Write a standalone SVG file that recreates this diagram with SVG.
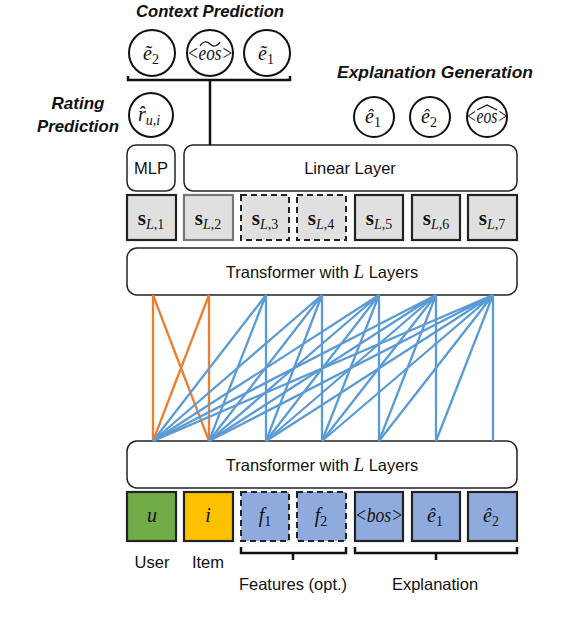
<svg xmlns="http://www.w3.org/2000/svg" width="562" height="630" viewBox="0 0 562 630">
<style>
.box{fill:#fff;stroke:#222;stroke-width:1.5}
.lbl{font-family:"Liberation Sans",Arial,sans-serif;font-size:16.5px;fill:#111;text-anchor:middle}
.ttl{font-family:"Liberation Sans",Arial,sans-serif;font-size:16.5px;font-weight:bold;font-style:italic;fill:#111;text-anchor:middle}
.m{font-family:"Liberation Serif","Times New Roman",serif;font-style:italic;font-size:20px;fill:#111;text-anchor:middle}
.circ{fill:#fff;stroke:#111;stroke-width:2}
.acc{fill:none;stroke:#111;stroke-width:1.2}
.sq{fill:#e0e0e0;stroke:#222;stroke-width:2.2}
.sqd{fill:#e0e0e0;stroke:#222;stroke-width:2;stroke-dasharray:6 4}
.o{stroke:#ed7d31;stroke-width:2.3;fill:none}
.b{stroke:#5b9bd5;stroke-width:2.3;fill:none}
.sub{font-size:14px}
</style>

<!-- Titles -->
<g id="titles">
<text class="ttl" x="210" y="17" textLength="148" lengthAdjust="spacingAndGlyphs">Context Prediction</text>
<text class="ttl" x="435" y="78" textLength="196" lengthAdjust="spacingAndGlyphs">Explanation Generation</text>
<text class="ttl" x="78" y="109" textLength="53" lengthAdjust="spacingAndGlyphs">Rating</text>
<text class="ttl" x="78" y="132" textLength="82" lengthAdjust="spacingAndGlyphs">Prediction</text>
</g>

<!-- Context prediction circles -->
<g id="ctx_e2">
<circle class="circ" cx="152" cy="53" r="23"/>
<text class="m" x="151" y="60">ẽ<tspan class="sub" font-style="normal" dy="4">2</tspan></text>
</g>
<g id="ctx_eos">
<circle class="circ" cx="210" cy="53" r="23"/>
<text class="m" x="210" y="60" font-size="17" textLength="46" lengthAdjust="spacingAndGlyphs">&lt;eos&gt;</text>
<path class="acc" d="M200,46 C203,41 207,41 210,44 C213,47 217,47 220,42"/>
</g>
<g id="ctx_e1">
<circle class="circ" cx="267" cy="53" r="23"/>
<text class="m" x="266" y="60">ẽ<tspan class="sub" font-style="normal" dy="4">1</tspan></text>
</g>

<!-- Rating circle -->
<g id="rating">
<circle class="circ" cx="151" cy="115" r="22"/>
<text class="m" x="149" y="121">r̂<tspan class="sub" dy="4">u,i</tspan></text>
</g>

<!-- Explanation circles -->
<g id="exp_e1">
<circle class="circ" cx="374" cy="117" r="20"/>
<text class="m" x="373" y="123">ê<tspan class="sub" font-style="normal" dy="4">1</tspan></text>
</g>
<g id="exp_e2">
<circle class="circ" cx="430" cy="117" r="20"/>
<text class="m" x="429" y="123">ê<tspan class="sub" font-style="normal" dy="4">2</tspan></text>
</g>
<g id="exp_eos">
<circle class="circ" cx="487" cy="117" r="20"/>
<text class="m" x="487" y="123" font-size="16" textLength="42" lengthAdjust="spacingAndGlyphs">&lt;eos&gt;</text>
<path class="acc" d="M477,110 L487,105 L497,110"/>
</g>

<!-- MLP and Linear -->
<g id="mlp">
<rect class="box" x="127" y="145" width="48" height="46" rx="9"/>
<text class="lbl" x="151" y="174">MLP</text>
</g>
<g id="linear">
<rect class="box" x="184" y="145" width="333" height="46" rx="9"/>
<text class="lbl" x="350" y="174">Linear Layer</text>
</g>

<!-- s_L boxes -->
<g id="s1"><rect class="sq" x="127" y="195" width="49" height="45"/>
<text class="m" x="151" y="225"><tspan font-style="normal" font-weight="bold" font-size="21">s</tspan><tspan class="sub" dy="4">L</tspan><tspan class="sub" font-style="normal">,1</tspan></text></g>
<g id="s2"><rect class="sq" x="184" y="195" width="49" height="45" style="stroke:#777"/>
<text class="m" x="208" y="225"><tspan font-style="normal" font-weight="bold" font-size="21">s</tspan><tspan class="sub" dy="4">L</tspan><tspan class="sub" font-style="normal">,2</tspan></text></g>
<g id="s3"><rect class="sqd" x="241" y="195" width="48" height="45"/>
<text class="m" x="265" y="225"><tspan font-style="normal" font-weight="bold" font-size="21">s</tspan><tspan class="sub" dy="4">L</tspan><tspan class="sub" font-style="normal">,3</tspan></text></g>
<g id="s4"><rect class="sqd" x="297" y="195" width="49" height="45"/>
<text class="m" x="321" y="225"><tspan font-style="normal" font-weight="bold" font-size="21">s</tspan><tspan class="sub" dy="4">L</tspan><tspan class="sub" font-style="normal">,4</tspan></text></g>
<g id="s5"><rect class="sq" x="355" y="195" width="48" height="45"/>
<text class="m" x="379" y="225"><tspan font-style="normal" font-weight="bold" font-size="21">s</tspan><tspan class="sub" dy="4">L</tspan><tspan class="sub" font-style="normal">,5</tspan></text></g>
<g id="s6"><rect class="sq" x="412" y="195" width="48" height="45"/>
<text class="m" x="436" y="225"><tspan font-style="normal" font-weight="bold" font-size="21">s</tspan><tspan class="sub" dy="4">L</tspan><tspan class="sub" font-style="normal">,6</tspan></text></g>
<g id="s7"><rect class="sq" x="468" y="195" width="49" height="45"/>
<text class="m" x="492" y="225"><tspan font-style="normal" font-weight="bold" font-size="21">s</tspan><tspan class="sub" dy="4">L</tspan><tspan class="sub" font-style="normal">,7</tspan></text></g>

<!-- Transformers -->
<g id="transformer_top">
<rect class="box" x="127" y="248" width="390" height="47" rx="10"/>
<text class="lbl" x="322" y="278">Transformer with <tspan font-family="Liberation Serif,serif" font-style="italic" font-size="19">L</tspan> Layers</text>
</g>
<g id="transformer_bottom">
<rect class="box" x="127" y="441" width="390" height="47" rx="10"/>
<text class="lbl" x="322" y="471">Transformer with <tspan font-family="Liberation Serif,serif" font-style="italic" font-size="19">L</tspan> Layers</text>
</g>

<!-- Connectors -->
<g id="connectors">
<path d="M128,76 V80 H290 V76 M210,80 V145" fill="none" stroke="#111" stroke-width="2.5"/>
<path class="o" d="M153,295 L153,441 M209,295 L153,441 M153,295 L209,441 M209,295 L209,441"/>
<path class="b" d="M266,295 L153,441 M266,295 L209,441 M266,295 L266,441"/>
<path class="b" d="M322,295 L153,441 M322,295 L209,441 M322,295 L266,441 M322,295 L322,441"/>
<path class="b" d="M379,295 L153,441 M379,295 L209,441 M379,295 L266,441 M379,295 L322,441 M379,295 L379,441"/>
<path class="b" d="M436,295 L153,441 M436,295 L209,441 M436,295 L266,441 M436,295 L322,441 M436,295 L379,441 M436,295 L436,441"/>
<path class="b" d="M493,295 L153,441 M493,295 L209,441 M493,295 L266,441 M493,295 L322,441 M493,295 L379,441 M493,295 L436,441 M493,295 L493,441"/>
<path d="M241,547 V553 H346 V547 M293,553 V560 M355,547 V553 H517 V547 M436,553 V560" fill="none" stroke="#111" stroke-width="2.5"/>
</g>

<!-- Input tokens -->
<g id="user"><rect x="127" y="492" width="49" height="49" fill="#70ad47" stroke="#222" stroke-width="2.2"/>
<text class="m" x="152" y="522">u</text>
<text class="lbl" x="152" y="568">User</text></g>
<g id="item"><rect x="184" y="492" width="49" height="49" fill="#ffc000" stroke="#222" stroke-width="2.2"/>
<text class="m" x="208" y="522">i</text>
<text class="lbl" x="208" y="568">Item</text></g>
<g id="f1"><rect x="241" y="492" width="48" height="49" fill="#8faadc" stroke="#222" stroke-width="2" stroke-dasharray="6 4"/>
<text class="m" x="265" y="522">f<tspan class="sub" font-style="normal" dy="4">1</tspan></text></g>
<g id="f2"><rect x="297" y="492" width="49" height="49" fill="#8faadc" stroke="#222" stroke-width="2" stroke-dasharray="6 4"/>
<text class="m" x="321" y="522">f<tspan class="sub" font-style="normal" dy="4">2</tspan></text></g>
<g id="bos"><rect x="355" y="492" width="48" height="49" fill="#8faadc" stroke="#222" stroke-width="2.2"/>
<text class="m" x="379" y="522" font-size="17" textLength="48" lengthAdjust="spacingAndGlyphs">&lt;bos&gt;</text></g>
<g id="e1"><rect x="412" y="492" width="48" height="49" fill="#8faadc" stroke="#222" stroke-width="2.2"/>
<text class="m" x="435" y="522">ê<tspan class="sub" font-style="normal" dy="4">1</tspan></text></g>
<g id="e2"><rect x="468" y="492" width="49" height="49" fill="#8faadc" stroke="#222" stroke-width="2.2"/>
<text class="m" x="491" y="522">ê<tspan class="sub" font-style="normal" dy="4">2</tspan></text></g>

<g id="group_labels">
<text class="lbl" x="293" y="590">Features (opt.)</text>
<text class="lbl" x="435" y="590">Explanation</text>
</g>
</svg>
